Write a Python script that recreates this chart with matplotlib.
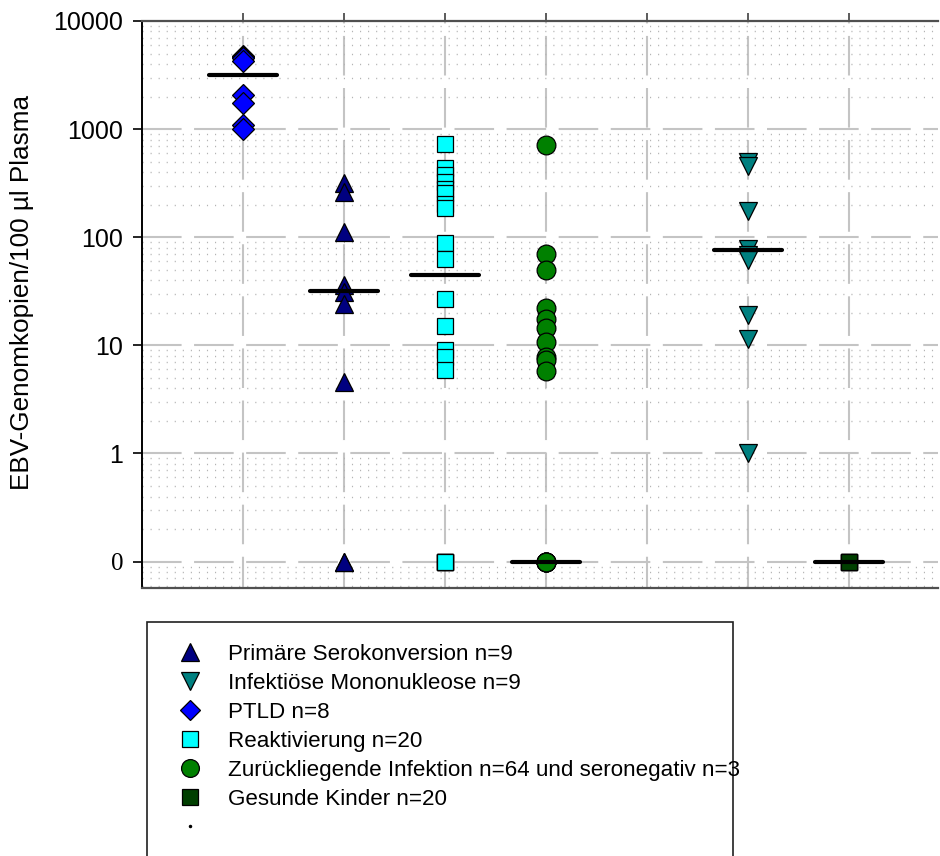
import numpy as np
import matplotlib
matplotlib.use("Agg")
import matplotlib.pyplot as plt
from matplotlib.lines import Line2D
from matplotlib.patches import Rectangle
from matplotlib.ticker import FixedLocator, LogLocator, NullFormatter

plt.rcParams["font.family"] = ["Liberation Sans", "DejaVu Sans"]

# groups in the order they appear on the x axis (slot 5 stays empty)
groups = ["PTLD n=8", "Primäre Serokonversion n=9", "Reaktivierung n=20",
          "Zurückliegende Infektion n=64 und seronegativ n=3",
          "Infektiöse Mononukleose n=9", "Gesunde Kinder n=20"]
slots = [1, 2, 3, 4, 6, 7]

ptld = [4700, 4600, 4500, 4300, 2050, 1750, 1100, 1010]
primaer = [315, 260, 111, 36, 31, 24, 4.6, 0, 0]
reakt = [735, 433, 380, 321, 280, 255, 205, 188, 88, 63,
         27, 15, 9.1, 7.8, 5.9, 0, 0, 0, 0, 0]
zurueck = [720, 70, 50, 22, 17.5, 14.5, 10.8, 7.8, 7.3, 5.8, 0, 0, 0, 0, 0]
infekt = [500, 460, 175, 78, 68, 62, 19, 11.5, 1]
gesund = [0, 0, 0, 0, 0]
values = [ptld, primaer, reakt, zurueck, infekt, gesund]

# horizontal bars
medians = [3160, 31.5, 45, 0, 76, 0]

markers = ["D", "^", "s", "o", "v", "s"]
colors = ["#0000ff", "#000080", "#00ffff", "#008000", "#008080", "#003f00"]
sizes = [11.0, 13.5, 12.0, 13.5, 13.5, 12.0]

# legend order in the reference
legend_order = [1, 4, 0, 2, 3, 5]

y_ticks = [0, 1, 10, 100, 1000, 10000]
ZERO = 0.1  # "0" sits one decade below 1


def to_axis(v):
    v = np.asarray(v, dtype=float)
    return np.where(v == 0, ZERO, v)


fig = plt.figure(figsize=(9.4, 8.56), dpi=100)
ax = fig.add_axes([142 / 940, 1 - 588 / 856, (938 - 142) / 940, (588 - 21) / 856])
ax.set_yscale("log")
ax.set_ylim(0.057, 10000)
ax.set_xlim(0, 7.88)

# grid
ax.yaxis.set_minor_locator(LogLocator(base=10, subs=np.arange(2, 10)))
ax.yaxis.set_minor_formatter(NullFormatter())
ax.grid(True, which="minor", axis="y", color="#b4b4b4", lw=1.0,
        linestyle=(0, (0.8, 5)))
ax.grid(True, which="major", axis="y", color="#c4c4c4", lw=1.5,
        linestyle=(0, (19, 6)))
ax.grid(True, which="major", axis="x", color="#c4c4c4", lw=1.5,
        linestyle=(4, (19, 6)))
ax.set_axisbelow(True)

ax.set_xticks(range(1, 8))
ax.tick_params(axis="x", which="both", bottom=False, top=True, labelbottom=False,
               direction="out", length=6, width=1.2, color="#404040")
ax.yaxis.set_major_locator(FixedLocator(to_axis(y_ticks)))
ax.set_yticklabels([str(t) for t in y_ticks])
ax.tick_params(axis="y", which="major", direction="out", length=6.5, width=1.2,
               pad=7, labelsize=18)
ax.tick_params(axis="y", which="minor", left=False)
lab0 = ax.get_yticklabels()[0]
lab0.set_family(["Liberation Serif", "DejaVu Serif"])

for side in ["top", "bottom"]:
    ax.spines[side].set_color("#505050")
    ax.spines[side].set_linewidth(1.6)
ax.spines["left"].set_linewidth(1.4)
ax.spines["right"].set_visible(False)

for g, (s, vals) in enumerate(zip(slots, values)):
    y = to_axis(vals)
    ax.plot(np.full(len(y), s), y, linestyle="none", marker=markers[g],
            ms=sizes[g], mfc=colors[g], mec="black", mew=0.9, zorder=3)
    ax.plot([s - 0.34, s + 0.34], [to_axis(medians[g])] * 2, color="black",
            lw=3, solid_capstyle="round", zorder=4)

ax.set_ylabel("EBV-Genomkopien/100 µl Plasma", fontsize=18.8)
ax.yaxis.set_label_coords((34 - 142) / 796, (588 - 292) / 567)

# legend
handles = [Line2D([], [], linestyle="none", marker=markers[g], ms=sizes[g] * 0.95,
                  mfc=colors[g], mec="black", mew=0.9) for g in legend_order]
labels = [groups[g] for g in legend_order]
handles.append(Line2D([], [], linestyle="none", marker=".", ms=3, color="black"))
labels.append("")
fig.legend(handles, labels, loc="upper left", bbox_to_anchor=(179 / 940, 1 - 644 / 856),
           frameon=False, fontsize=16.1, handlelength=1.0, handletextpad=1.2,
           labelspacing=0.36, borderpad=0, borderaxespad=0)
fig.patches.append(Rectangle((147 / 940, -0.05), (733 - 147) / 940, 0.05 + 1 - 622 / 856,
                             transform=fig.transFigure, fill=False,
                             edgecolor="#202020", lw=1.2))

fig.savefig("out.png", dpi=100)
